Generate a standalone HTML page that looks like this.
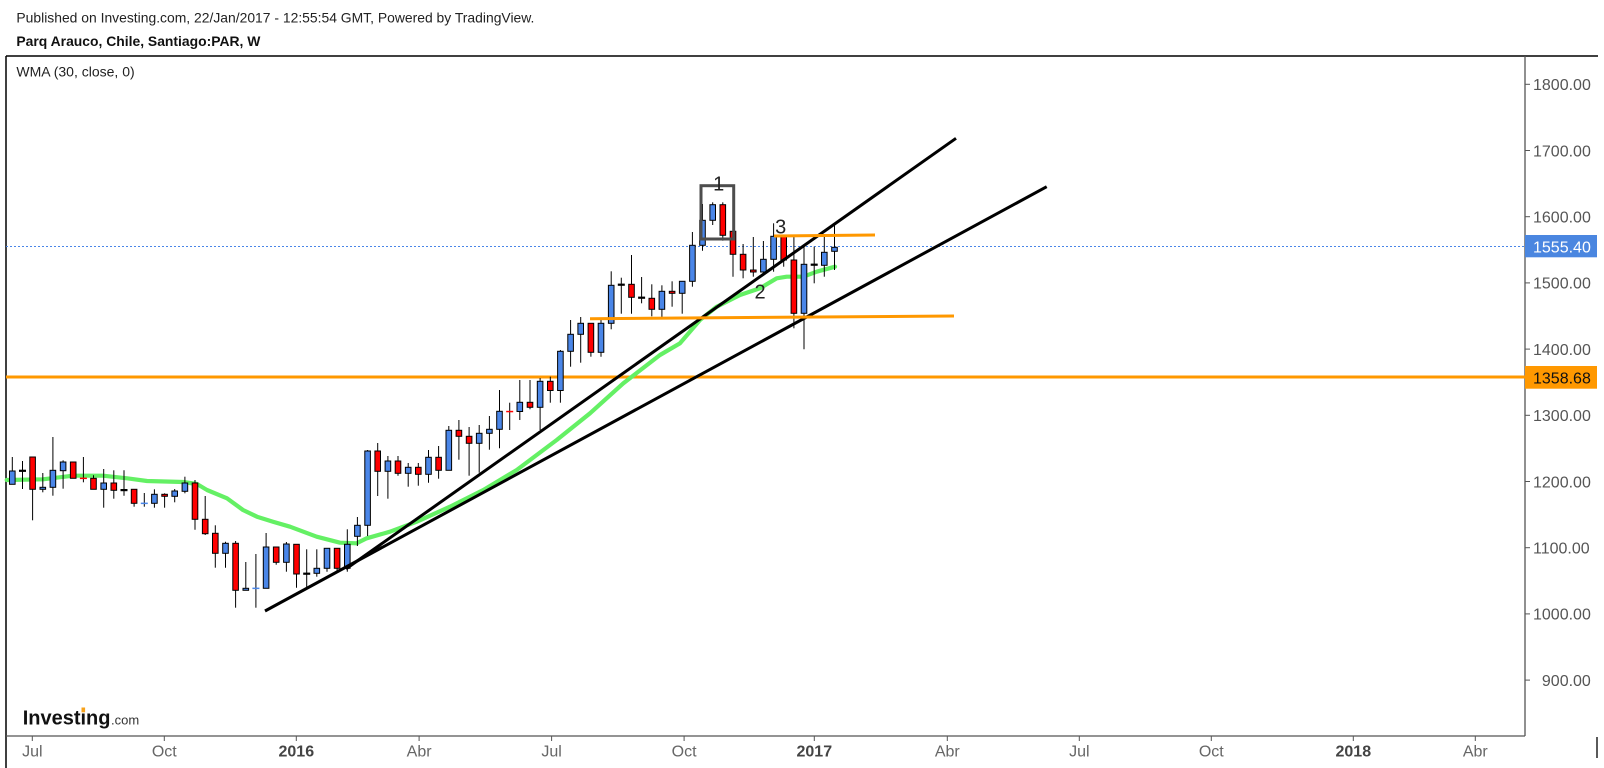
<!DOCTYPE html>
<html><head><meta charset="utf-8"><style>
html,body{margin:0;padding:0;background:#fff;}
svg{display:block;}
text{font-family:"Liberation Sans",Arial,sans-serif;}
</style></head><body>
<svg width="1604" height="768" viewBox="0 0 1604 768" xmlns="http://www.w3.org/2000/svg">
<rect width="1604" height="768" fill="#fff"/>
<!-- header -->
<text x="16.4" y="22.5" font-size="14" fill="#222" textLength="518" lengthAdjust="spacingAndGlyphs">Published on Investing.com, 22/Jan/2017 - 12:55:54 GMT, Powered by TradingView.</text>
<text x="16.4" y="46" font-size="14" font-weight="bold" fill="#111" textLength="244" lengthAdjust="spacingAndGlyphs">Parq Arauco, Chile, Santiago:PAR, W</text>
<!-- frame -->
<line x1="6" y1="56" x2="1598" y2="56" stroke="#000" stroke-width="1.5"/>
<line x1="6" y1="56" x2="6" y2="768" stroke="#000" stroke-width="1.5"/>
<line x1="1525" y1="56" x2="1525" y2="736" stroke="#555" stroke-width="1.3"/>
<line x1="6" y1="736" x2="1525" y2="736" stroke="#555" stroke-width="1.3"/>
<line x1="1597" y1="737" x2="1597" y2="758" stroke="#000" stroke-width="1.3"/>
<text x="16.4" y="76.6" font-size="14" fill="#222">WMA (30, close, 0)</text>

<!-- price axis -->
<g stroke="#555" stroke-width="1">
<line x1="1525" y1="84.3" x2="1530" y2="84.3"/><line x1="1525" y1="150.5" x2="1530" y2="150.5"/><line x1="1525" y1="216.7" x2="1530" y2="216.7"/><line x1="1525" y1="282.9" x2="1530" y2="282.9"/><line x1="1525" y1="349.1" x2="1530" y2="349.1"/><line x1="1525" y1="415.3" x2="1530" y2="415.3"/><line x1="1525" y1="481.5" x2="1530" y2="481.5"/><line x1="1525" y1="547.7" x2="1530" y2="547.7"/><line x1="1525" y1="613.9" x2="1530" y2="613.9"/><line x1="1525" y1="680.1" x2="1530" y2="680.1"/>
</g>
<g font-size="16" fill="#555">
<text x="1533" y="90.1">1800.00</text>
<text x="1533" y="156.3">1700.00</text>
<text x="1533" y="222.5">1600.00</text>
<text x="1533" y="288.7">1500.00</text>
<text x="1533" y="354.9">1400.00</text>
<text x="1533" y="421.1">1300.00</text>
<text x="1533" y="487.3">1200.00</text>
<text x="1533" y="553.5">1100.00</text>
<text x="1533" y="619.7">1000.00</text>
<text x="1541.9" y="685.9">900.00</text>
</g>

<!-- time axis -->
<g stroke="#555" stroke-width="1">
<line x1="32.3" y1="736" x2="32.3" y2="741"/><line x1="164.3" y1="736" x2="164.3" y2="741"/><line x1="296.3" y1="736" x2="296.3" y2="741"/><line x1="419.1" y1="736" x2="419.1" y2="741"/><line x1="551.6" y1="736" x2="551.6" y2="741"/><line x1="684.1" y1="736" x2="684.1" y2="741"/><line x1="814.3" y1="736" x2="814.3" y2="741"/><line x1="947.3" y1="736" x2="947.3" y2="741"/><line x1="1079.3" y1="736" x2="1079.3" y2="741"/><line x1="1211.3" y1="736" x2="1211.3" y2="741"/><line x1="1353.3" y1="736" x2="1353.3" y2="741"/><line x1="1475.3" y1="736" x2="1475.3" y2="741"/>
</g>
<g font-size="16" fill="#666" text-anchor="middle">
<text x="32.3" y="756.7">Jul</text>
<text x="164.3" y="756.7">Oct</text>
<text x="296.3" y="756.7" font-weight="bold" fill="#444">2016</text>
<text x="419.1" y="756.7">Abr</text>
<text x="551.6" y="756.7">Jul</text>
<text x="684.1" y="756.7">Oct</text>
<text x="814.3" y="756.7" font-weight="bold" fill="#444">2017</text>
<text x="947.3" y="756.7">Abr</text>
<text x="1079.3" y="756.7">Jul</text>
<text x="1211.3" y="756.7">Oct</text>
<text x="1353.3" y="756.7" font-weight="bold" fill="#444">2018</text>
<text x="1475.3" y="756.7">Abr</text>
</g>

<!-- logo -->
<text x="22.7" y="724.3" font-size="20" font-weight="bold" fill="#111">Investing</text>
<rect x="81.5" y="707.5" width="3.6" height="4.8" fill="#f7a21b"/>
<text x="111" y="724.3" font-size="13" fill="#333">.com</text>

<!-- horizontal lines -->
<line x1="6" y1="246.5" x2="1525" y2="246.5" stroke="#4a86e8" stroke-width="1" stroke-dasharray="2,2"/>
<line x1="6" y1="377" x2="1525" y2="377" stroke="#ff9800" stroke-width="3"/>

<!-- WMA -->
<polyline fill="none" stroke="#64f064" stroke-width="4.2" stroke-linejoin="round" stroke-linecap="round" points="6.7,480 43,479.3 73,475.7 103,475.7 127,478.3 147,481 183,482 197,484 207,490 227,498.3 243,510 257,516.7 273,521.7 290,526.7 316.7,536.7 340,542.7 356.7,543.3 366.7,538.3 390,531.7 416.7,521.7 450,506.7 483.3,490 516.7,470 550,445 556.7,440 590,413.3 623.3,383.3 660,355 680,343.3 700,320 716.7,306.7 740,295 760,288.3 776.7,278.3 786.7,276.7 803.3,276.7 816.7,271.7 835,266.7"/>

<!-- wicks -->
<g stroke="#000" stroke-width="1">
<line x1="12.3" y1="457" x2="12.3" y2="484.3"/>
<line x1="22.5" y1="461" x2="22.5" y2="489"/>
<line x1="32.6" y1="457" x2="32.6" y2="520.3"/>
<line x1="42.8" y1="473" x2="42.8" y2="492.3"/>
<line x1="52.9" y1="437" x2="52.9" y2="495.7"/>
<line x1="63.1" y1="460.3" x2="63.1" y2="488.7"/>
<line x1="73.2" y1="462" x2="73.2" y2="478.3"/>
<line x1="83.4" y1="457" x2="83.4" y2="482.3"/>
<line x1="93.5" y1="475.3" x2="93.5" y2="489.3"/>
<line x1="103.7" y1="469" x2="103.7" y2="507.7"/>
<line x1="113.8" y1="470.3" x2="113.8" y2="498.7"/>
<line x1="124" y1="470.3" x2="124" y2="495.7"/>
<line x1="134.1" y1="489.3" x2="134.1" y2="506.7"/>
<line x1="144.3" y1="493" x2="144.3" y2="506.7"/>
<line x1="154.4" y1="489.3" x2="154.4" y2="507.7"/>
<line x1="164.6" y1="493.3" x2="164.6" y2="507.7"/>
<line x1="174.7" y1="489" x2="174.7" y2="502.3"/>
<line x1="184.9" y1="476.7" x2="184.9" y2="493.3"/>
<line x1="195" y1="480" x2="195" y2="529.7"/>
<line x1="205.2" y1="496" x2="205.2" y2="535"/>
<line x1="215.3" y1="525.3" x2="215.3" y2="567.7"/>
<line x1="225.5" y1="541.7" x2="225.5" y2="567.7"/>
<line x1="235.6" y1="541" x2="235.6" y2="607.7"/>
<line x1="245.8" y1="562" x2="245.8" y2="590.3"/>
<line x1="255.9" y1="554" x2="255.9" y2="607.7"/>
<line x1="266.1" y1="533" x2="266.1" y2="588.3"/>
<line x1="276.2" y1="547" x2="276.2" y2="564.7"/>
<line x1="286.4" y1="542" x2="286.4" y2="571.7"/>
<line x1="296.5" y1="544.3" x2="296.5" y2="587.7"/>
<line x1="306.7" y1="549.3" x2="306.7" y2="589.3"/>
<line x1="316.8" y1="549.3" x2="316.8" y2="576.7"/>
<line x1="327" y1="548.3" x2="327" y2="571.7"/>
<line x1="337.1" y1="548.3" x2="337.1" y2="571.7"/>
<line x1="347.3" y1="529.3" x2="347.3" y2="571.7"/>
<line x1="357.4" y1="517" x2="357.4" y2="546"/>
<line x1="367.6" y1="450" x2="367.6" y2="536"/>
<line x1="377.7" y1="443" x2="377.7" y2="496"/>
<line x1="387.9" y1="456" x2="387.9" y2="498.7"/>
<line x1="398" y1="456" x2="398" y2="475.7"/>
<line x1="408.2" y1="463" x2="408.2" y2="486.7"/>
<line x1="418.3" y1="463" x2="418.3" y2="485.7"/>
<line x1="428.5" y1="450" x2="428.5" y2="482.7"/>
<line x1="438.6" y1="446" x2="438.6" y2="478.7"/>
<line x1="448.8" y1="426" x2="448.8" y2="470.3"/>
<line x1="458.9" y1="420" x2="458.9" y2="459.7"/>
<line x1="469.1" y1="427" x2="469.1" y2="475.7"/>
<line x1="479.2" y1="425" x2="479.2" y2="472.7"/>
<line x1="489.4" y1="416" x2="489.4" y2="449.7"/>
<line x1="499.5" y1="390" x2="499.5" y2="448.3"/>
<line x1="509.7" y1="402.7" x2="509.7" y2="430"/>
<line x1="519.8" y1="380" x2="519.8" y2="420"/>
<line x1="530" y1="380" x2="530" y2="409.3"/>
<line x1="540.1" y1="378" x2="540.1" y2="430"/>
<line x1="550.3" y1="376.7" x2="550.3" y2="402.7"/>
<line x1="560.4" y1="350" x2="560.4" y2="402.7"/>
<line x1="570.6" y1="320" x2="570.6" y2="366.7"/>
<line x1="580.7" y1="317" x2="580.7" y2="362.7"/>
<line x1="590.9" y1="323.3" x2="590.9" y2="356.7"/>
<line x1="601" y1="320" x2="601" y2="356.7"/>
<line x1="611.2" y1="271.3" x2="611.2" y2="329.3"/>
<line x1="621.3" y1="277.7" x2="621.3" y2="313.7"/>
<line x1="631.5" y1="255" x2="631.5" y2="313.7"/>
<line x1="641.6" y1="277" x2="641.6" y2="303.3"/>
<line x1="651.8" y1="284.3" x2="651.8" y2="316.3"/>
<line x1="661.9" y1="285.3" x2="661.9" y2="318.7"/>
<line x1="672.1" y1="281.3" x2="672.1" y2="306.7"/>
<line x1="682.2" y1="281.3" x2="682.2" y2="313.7"/>
<line x1="692.4" y1="232" x2="692.4" y2="286.7"/>
<line x1="702.5" y1="204" x2="702.5" y2="250.7"/>
<line x1="712.7" y1="202.3" x2="712.7" y2="225"/>
<line x1="722.8" y1="202.3" x2="722.8" y2="240.7"/>
<line x1="733" y1="231.3" x2="733" y2="276.7"/>
<line x1="743.1" y1="244" x2="743.1" y2="278.3"/>
<line x1="753.3" y1="237" x2="753.3" y2="276.7"/>
<line x1="763.4" y1="241" x2="763.4" y2="272"/>
<line x1="773.6" y1="223.3" x2="773.6" y2="271.7"/>
<line x1="783.7" y1="236.3" x2="783.7" y2="266.7"/>
<line x1="793.9" y1="236.7" x2="793.9" y2="328.3"/>
<line x1="804" y1="246.7" x2="804" y2="349.3"/>
<line x1="814.2" y1="246.7" x2="814.2" y2="283.3"/>
<line x1="824.3" y1="234.3" x2="824.3" y2="276.7"/>
<line x1="834.5" y1="223.3" x2="834.5" y2="270"/>
</g>

<!-- bodies -->
<g stroke="#000" stroke-width="1">
<g fill="#4a86e8">
<rect x="9.5" y="471" width="5.6" height="13.3"/>
<rect x="40" y="487.3" width="5.6" height="2"/>
<rect x="50.1" y="470.3" width="5.6" height="17"/>
<rect x="60.3" y="462" width="5.6" height="8.7"/>
<rect x="100.9" y="483" width="5.6" height="6.3"/>
<rect x="151.6" y="494.3" width="5.6" height="9"/>
<rect x="171.9" y="491" width="5.6" height="5.3"/>
<rect x="182.1" y="483" width="5.6" height="8.3"/>
<rect x="222.7" y="543.3" width="5.6" height="10"/>
<rect x="243" y="588.3" width="5.6" height="2"/>
<rect x="263.3" y="547" width="5.6" height="41.3"/>
<rect x="283.6" y="544" width="5.6" height="18.3"/>
<rect x="314" y="568.3" width="5.6" height="5"/>
<rect x="324.2" y="548.3" width="5.6" height="20"/>
<rect x="344.5" y="544.3" width="5.6" height="24"/>
<rect x="354.6" y="525.3" width="5.6" height="11"/>
<rect x="364.8" y="451" width="5.6" height="74.3"/>
<rect x="385.1" y="461" width="5.6" height="10.3"/>
<rect x="405.4" y="467.3" width="5.6" height="6"/>
<rect x="425.7" y="457.3" width="5.6" height="17"/>
<rect x="446" y="430.3" width="5.6" height="40"/>
<rect x="476.4" y="433.3" width="5.6" height="10"/>
<rect x="486.6" y="429.3" width="5.6" height="4"/>
<rect x="496.7" y="411.3" width="5.6" height="18"/>
<rect x="517" y="402.3" width="5.6" height="9.2"/>
<rect x="537.3" y="381.3" width="5.6" height="26"/>
<rect x="557.6" y="351.3" width="5.6" height="39.2"/>
<rect x="567.8" y="334.3" width="5.6" height="17"/>
<rect x="577.9" y="323.3" width="5.6" height="11"/>
<rect x="598.2" y="323.3" width="5.6" height="29"/>
<rect x="608.4" y="285.3" width="5.6" height="38"/>
<rect x="659.1" y="291.3" width="5.6" height="18"/>
<rect x="679.4" y="281.3" width="5.6" height="12"/>
<rect x="689.6" y="245.3" width="5.6" height="36"/>
<rect x="699.7" y="220.3" width="5.6" height="25"/>
<rect x="709.9" y="204.7" width="5.6" height="15.6"/>
<rect x="760.6" y="259.3" width="5.6" height="12.7"/>
<rect x="770.8" y="236.3" width="5.6" height="23"/>
<rect x="801.2" y="264.3" width="5.6" height="49"/>
<rect x="821.5" y="252.3" width="5.6" height="13"/>
<rect x="831.7" y="247.3" width="5.6" height="4"/>
</g>
<g fill="#ff0000">
<rect x="29.8" y="457" width="5.6" height="32.3"/>
<rect x="70.4" y="462" width="5.6" height="16.3"/>
<rect x="90.7" y="478.3" width="5.6" height="11"/>
<rect x="111" y="483" width="5.6" height="7.3"/>
<rect x="131.3" y="489.3" width="5.6" height="14"/>
<rect x="161.8" y="494.3" width="5.6" height="2"/>
<rect x="192.2" y="483" width="5.6" height="36.3"/>
<rect x="202.4" y="519.3" width="5.6" height="14.4"/>
<rect x="212.5" y="533.3" width="5.6" height="20"/>
<rect x="232.8" y="543.3" width="5.6" height="47"/>
<rect x="273.4" y="547" width="5.6" height="15.3"/>
<rect x="293.7" y="544.3" width="5.6" height="29.7"/>
<rect x="334.3" y="548.3" width="5.6" height="20"/>
<rect x="374.9" y="451" width="5.6" height="20.3"/>
<rect x="395.2" y="461" width="5.6" height="12.3"/>
<rect x="415.5" y="467.3" width="5.6" height="7"/>
<rect x="435.8" y="457.3" width="5.6" height="13"/>
<rect x="456.1" y="430.3" width="5.6" height="6"/>
<rect x="466.3" y="436.3" width="5.6" height="7"/>
<rect x="527.2" y="402.3" width="5.6" height="5"/>
<rect x="547.5" y="381.3" width="5.6" height="9.2"/>
<rect x="588.1" y="323.3" width="5.6" height="29"/>
<rect x="628.7" y="284.3" width="5.6" height="13"/>
<rect x="649" y="298.3" width="5.6" height="11"/>
<rect x="669.3" y="291.3" width="5.6" height="2"/>
<rect x="720" y="204.7" width="5.6" height="30.6"/>
<rect x="730.2" y="231.3" width="5.6" height="23"/>
<rect x="740.3" y="254.3" width="5.6" height="15.7"/>
<rect x="750.5" y="270" width="5.6" height="2"/>
<rect x="780.9" y="236.3" width="5.6" height="23.7"/>
<rect x="791.1" y="260" width="5.6" height="53.3"/>
</g>
</g>
<!-- doji -->
<g stroke="none">
<rect x="19" y="469.7" width="7" height="2.2" fill="#000"/>
<rect x="120.5" y="489" width="7" height="2.2" fill="#000"/>
<rect x="303.2" y="572.6" width="7" height="2.2" fill="#000"/>
<rect x="617.8" y="283.6" width="7" height="2.2" fill="#000"/>
<rect x="638.1" y="296.6" width="7" height="2.2" fill="#000"/>
<rect x="810.7" y="263.6" width="7" height="2.2" fill="#000"/>
<rect x="79.9" y="477.6" width="7" height="1.5" fill="#ff0000"/>
<rect x="506.2" y="410.8" width="7" height="1.5" fill="#ff0000"/>
<rect x="140.8" y="502.6" width="7" height="1.5" fill="#4a86e8"/>
<rect x="252.4" y="587.6" width="7" height="1.5" fill="#4a86e8"/>
</g>

<!-- trend lines -->
<line x1="265" y1="611" x2="1046.7" y2="186.7" stroke="#000" stroke-width="3"/>
<line x1="346" y1="568.9" x2="956" y2="138.3" stroke="#000" stroke-width="3"/>
<!-- short orange lines -->
<line x1="590" y1="318.7" x2="954" y2="316" stroke="#ff9800" stroke-width="3"/>
<line x1="774" y1="236" x2="875" y2="235" stroke="#ff9800" stroke-width="3"/>

<!-- annotation box and numbers -->
<rect x="701" y="185.7" width="32.7" height="53.3" fill="none" stroke="#4d4d4d" stroke-width="3"/>
<g font-size="20" fill="#222" text-anchor="middle">
<text x="718.7" y="190.5">1</text>
<text x="780.7" y="233.3">3</text>
<text x="760" y="298.3">2</text>
</g>

<!-- price labels -->
<rect x="1525" y="235" width="72" height="22.3" fill="#4a86e0"/>
<text x="1533" y="252.3" font-size="16" fill="#fff">1555.40</text>
<rect x="1525" y="366" width="72" height="22.7" fill="#ff9800"/>
<text x="1533" y="383.3" font-size="16" fill="#111">1358.68</text>
</svg>
</body></html>
